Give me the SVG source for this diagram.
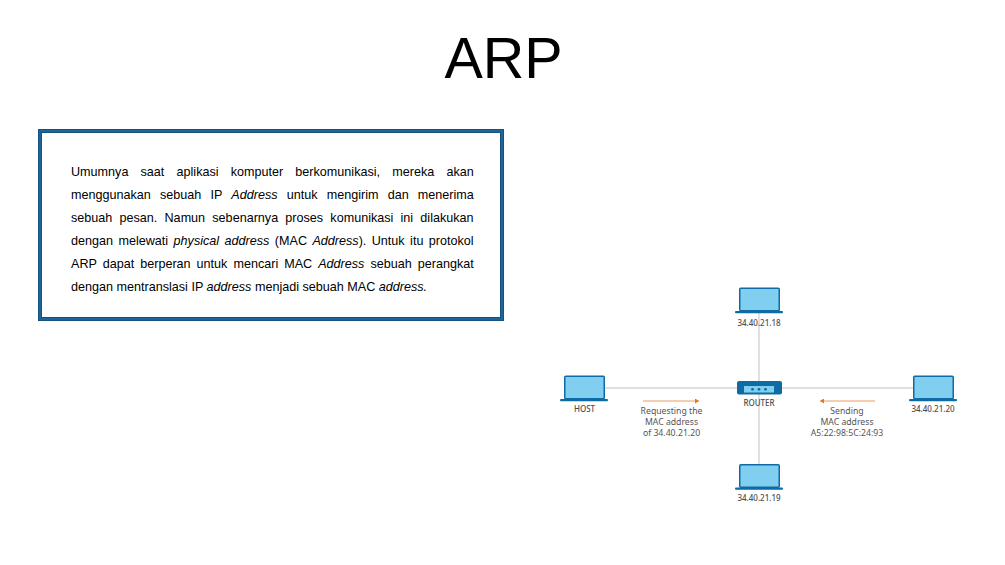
<svg xmlns="http://www.w3.org/2000/svg" width="1005" height="565" viewBox="0 0 1005 565">
<style>
.t{font-family:"Liberation Sans",Arial,sans-serif;font-size:12.6px;fill:#000}
.i{font-style:italic}
.l{font-family:"Noto Sans","Open Sans",sans-serif;font-size:8.7px;fill:#555;text-anchor:middle}
.n{font-size:8px;font-weight:500;fill:#4d4d4d}
.body{fill:#81cff0;stroke:#0f6ba3;stroke-width:1.5}
.base{fill:#0f6ba3}
.wire{stroke:#e0e0e0;stroke-width:2;fill:none}
.o{stroke:#ed9a5c;stroke-width:1;fill:none}
</style>
<defs>
<g id="lap"><rect class="body" x="0.75" y="0.75" width="39.5" height="22.5" rx="1"/><rect class="base" x="-4" y="23.5" width="48" height="2.2" rx="1"/></g>
<marker id="ah" markerUnits="userSpaceOnUse" markerWidth="5" markerHeight="5" refX="4" refY="2.5" orient="auto-start-reverse"><path d="M0 0L4 2.5L0 5Z" fill="#e0762a"/></marker>
</defs>
<rect width="1005" height="565" fill="#fff"/>
<text id="title" x="503.5" y="78" text-anchor="middle" font-family="'Liberation Sans',Arial,sans-serif" font-size="57.5">ARP</text>
<g id="textbox">
<rect x="40" y="131" width="462" height="188" fill="#fff" stroke="#14537f" stroke-width="4"/>
<rect x="40" y="131" width="462" height="188" fill="none" stroke="#1c6596" stroke-width="2"/>
<text class="t" x="71" y="176" word-spacing="8.67">Umumnya saat aplikasi komputer berkomunikasi, mereka akan</text>
<text class="t" x="71" y="199" word-spacing="5.67">menggunakan sebuah IP <tspan class="i">Address</tspan> untuk mengirim dan menerima</text>
<text class="t" x="71" y="222" word-spacing="3.7">sebuah pesan. Namun sebenarnya proses komunikasi ini dilakukan</text>
<text class="t" x="71" y="245" word-spacing="1.94">dengan melewati <tspan class="i">physical address</tspan> (MAC <tspan class="i">Address</tspan>). Untuk itu protokol</text>
<text class="t" x="71" y="268" word-spacing="2.5">ARP dapat berperan untuk mencari MAC <tspan class="i">Address</tspan> sebuah perangkat</text>
<text class="t" x="71" y="291">dengan mentranslasi IP <tspan class="i">address</tspan> menjadi sebuah MAC <tspan class="i">address.</tspan></text>
</g>
<g id="connectors">
<path class="wire" d="M605 388H913"/>
<path class="wire" d="M759 313V464"/>
<path class="o" d="M643 401H699" marker-end="url(#ah)"/>
<path class="o" d="M875 401H820" marker-end="url(#ah)"/>
</g>
<g id="host"><use href="#lap" x="564" y="375.5"/><text class="l n" x="584.5" y="412">HOST</text></g>
<g id="n18"><use href="#lap" x="739" y="287.5"/><text class="l n" x="759" y="326">34.40.21.18</text></g>
<g id="n19"><use href="#lap" x="739" y="464"/><text class="l n" x="759" y="501">34.40.21.19</text></g>
<g id="n20"><use href="#lap" x="913" y="375.5"/><text class="l n" x="933" y="412">34.40.21.20</text></g>
<g id="router">
<rect x="737" y="381" width="45" height="13.5" rx="2" fill="#0f6ba3"/>
<rect x="744" y="386" width="30" height="6.5" fill="#81cff0"/>
<circle cx="752.5" cy="389.3" r="1.4" fill="#0f6ba3"/><circle cx="759" cy="389.3" r="1.4" fill="#0f6ba3"/><circle cx="765.5" cy="389.3" r="1.4" fill="#0f6ba3"/>
<text class="l n" x="759" y="406">ROUTER</text>
</g>
<g id="label-req"><text class="l" x="671.5" y="414">Requesting the</text><text class="l" x="671.5" y="425">MAC address</text><text class="l" x="671.5" y="436">of 34.40.21.20</text></g>
<g id="label-send"><text class="l" x="847" y="414">Sending</text><text class="l" x="847" y="425">MAC address</text><text class="l" x="847" y="436">A5:22:98:5C:24:93</text></g>
</svg>
